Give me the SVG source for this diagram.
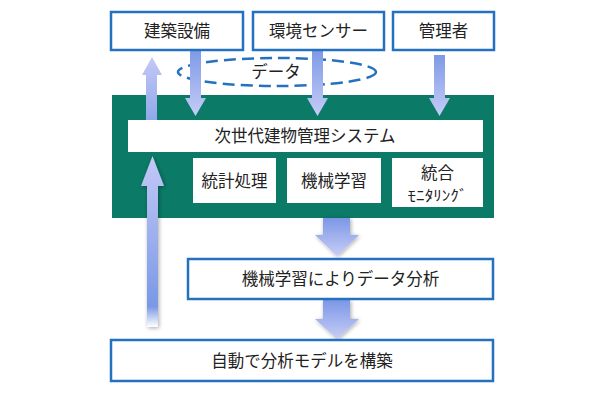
<svg xmlns="http://www.w3.org/2000/svg" width="610" height="400" viewBox="0 0 610 400">
<style>
.box{fill:#fff;stroke:#2472bf;stroke-width:2.5}
.wb{fill:#fff}
.t{font-family:"Noto Sans CJK JP","Noto Sans",sans-serif;font-size:16.5px;fill:#222;text-anchor:middle}
</style>
<defs>
<linearGradient id="gDown" x1="0" y1="0" x2="0" y2="1">
<stop offset="0" stop-color="#7d9ae6"/>
<stop offset="1" stop-color="#c6ccf7"/>
</linearGradient>
<linearGradient id="gUp" x1="0" y1="1" x2="0" y2="0">
<stop offset="0" stop-color="#ffffff"/>
<stop offset="0.12" stop-color="#7a98e6"/>
<stop offset="1" stop-color="#c4c9f7"/>
</linearGradient>
<linearGradient id="gUp2" x1="0" y1="1" x2="0" y2="0">
<stop offset="0" stop-color="#8fa8ea"/>
<stop offset="1" stop-color="#c4c9f7"/>
</linearGradient>
<linearGradient id="gBig" x1="0" y1="0" x2="0" y2="1">
<stop offset="0" stop-color="#7b97e6"/>
<stop offset="1" stop-color="#c8cdf6"/>
</linearGradient>
<filter id="sh" x="-30%" y="-30%" width="160%" height="160%">
<feGaussianBlur in="SourceAlpha" stdDeviation="2"/>
<feOffset dx="1" dy="1"/>
<feComponentTransfer><feFuncA type="linear" slope="0.35"/></feComponentTransfer>
<feMerge><feMergeNode/><feMergeNode in="SourceGraphic"/></feMerge>
</filter>
</defs>
<g id="system">
<rect x="112" y="95" width="382" height="123" fill="#0b7a67"/>
</g>
<g id="data">
<ellipse cx="277" cy="72" rx="99" ry="14" fill="none" stroke="#2472bf" stroke-width="2.5" stroke-dasharray="12,6"/>
<text class="t" x="276" y="78">データ</text>
</g>
<g id="connectors">
<path d="M146,120 V75 H142 L152,57 L162,75 H157 V120 Z" fill="url(#gUp2)"/>
<path d="M147,327 V186 H141 L152.5,156 L164,186 H158 V327 Z" fill="url(#gUp)" filter="url(#sh)"/>
<path d="M190,50 V98 H185 L195.5,116 L206,98 H201 V50 Z" fill="url(#gDown)"/>
<path d="M312,50 V98 H307 L317.5,116 L328,98 H323 V50 Z" fill="url(#gDown)"/>
<path d="M434,55 V98 H429 L439.5,116 L450,98 H445 V55 Z" fill="url(#gDown)"/>
<path d="M323,218 V235 H315 L337,256 L359,235 H350 V218 Z" fill="url(#gBig)" filter="url(#sh)"/>
<path d="M323,300 V319 H315 L337,339 L359,319 H350 V300 Z" fill="url(#gBig)" filter="url(#sh)"/>
</g>
<g id="n1"><rect class="box" x="111" y="12" width="132" height="38"/><text class="t" x="177" y="37">建築設備</text></g>
<g id="n2"><rect class="box" x="253" y="12" width="131" height="38"/><text class="t" x="318.5" y="37">環境センサー</text></g>
<g id="n3"><rect class="box" x="393" y="12" width="101" height="38"/><text class="t" x="443.5" y="37">管理者</text></g>
<g id="bar"><rect class="wb" x="128" y="120" width="355" height="32"/><text class="t" x="305" y="142">次世代建物管理システム</text></g>
<g id="s1"><rect class="wb" x="193" y="158" width="83" height="45"/><text class="t" x="234.5" y="186.5">統計処理</text></g>
<g id="s2"><rect class="wb" x="287" y="158" width="94" height="45"/><text class="t" x="334" y="186.5">機械学習</text></g>
<g id="s3"><rect class="wb" x="392" y="158" width="91" height="49"/><text class="t" x="437.5" y="179">統合</text><text class="t" x="437.5" y="201" style="font-size:14.5px" textLength="60" lengthAdjust="spacingAndGlyphs">ﾓﾆﾀﾘﾝｸﾞ</text></g>
<g id="n4"><rect class="box" x="188" y="259" width="305" height="40"/><text class="t" x="340.5" y="285">機械学習によりデータ分析</text></g>
<g id="n5"><rect class="box" x="111" y="340" width="382" height="41"/><text class="t" x="302" y="366.5">自動で分析モデルを構築</text></g>
</svg>
